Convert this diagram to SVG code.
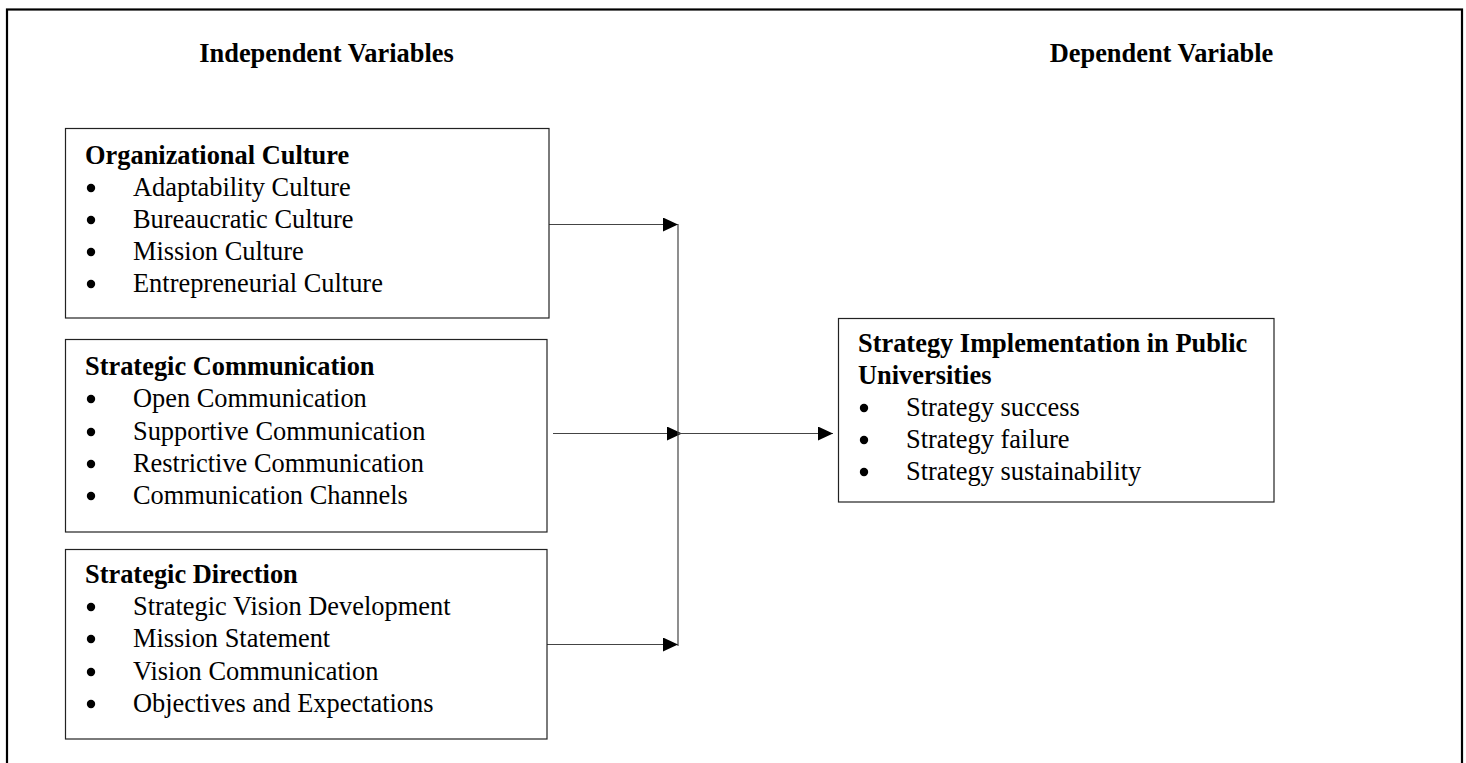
<svg xmlns="http://www.w3.org/2000/svg" width="1466" height="763" viewBox="0 0 1466 763">
<defs>
<style>
text{font-family:"Liberation Serif","Times New Roman",serif;font-size:26.4px;fill:#000}
.b{font-weight:bold}
.box{fill:#fff;stroke:#222;stroke-width:1.2}
.c{stroke:#444;stroke-width:1.2;fill:none}
.dot{fill:#000}
</style>
<marker id="ah" markerWidth="15" markerHeight="14" refX="15" refY="7" orient="auto" markerUnits="userSpaceOnUse">
<path d="M0,0 L15,7 L0,14 Z" fill="#000"/>
</marker>
</defs>
<rect x="0" y="0" width="1466" height="763" fill="#fff"/>
<rect id="frame" x="7" y="9.5" width="1455" height="800" fill="none" stroke="#000" stroke-width="2.2"/>
<text id="title-iv" class="b" x="326.5" y="62" text-anchor="middle">Independent Variables</text>
<text id="title-dv" class="b" x="1161.5" y="62" text-anchor="middle">Dependent Variable</text>

<g id="connectors">
<line class="c" x1="549" y1="224.5" x2="678" y2="224.5" marker-end="url(#ah)"/>
<line class="c" x1="553" y1="433.5" x2="682" y2="433.5" marker-end="url(#ah)"/>
<line class="c" x1="545" y1="644.5" x2="678" y2="644.5" marker-end="url(#ah)"/>
<line class="c" x1="678" y1="224" x2="678" y2="646"/>
<line class="c" x1="678" y1="433.5" x2="833" y2="433.5" marker-end="url(#ah)"/>
</g>

<g id="node-org-culture">
<rect class="box" x="65.5" y="128.5" width="483.5" height="189.5"/>
<text class="b" x="85" y="164">Organizational Culture</text>
<circle class="dot" cx="91" cy="188" r="4.2"/><text x="133" y="196">Adaptability Culture</text>
<circle class="dot" cx="91" cy="220" r="4.2"/><text x="133" y="228">Bureaucratic Culture</text>
<circle class="dot" cx="91" cy="252" r="4.2"/><text x="133" y="260">Mission Culture</text>
<circle class="dot" cx="91" cy="284" r="4.2"/><text x="133" y="292">Entrepreneurial Culture</text>
</g>

<g id="node-strat-comm">
<rect class="box" x="65.5" y="339.5" width="481.5" height="192.5"/>
<text class="b" x="85" y="375">Strategic Communication</text>
<circle class="dot" cx="91" cy="399" r="4.2"/><text x="133" y="407">Open Communication</text>
<circle class="dot" cx="91" cy="432" r="4.2"/><text x="133" y="440">Supportive Communication</text>
<circle class="dot" cx="91" cy="464" r="4.2"/><text x="133" y="472">Restrictive Communication</text>
<circle class="dot" cx="91" cy="496" r="4.2"/><text x="133" y="504">Communication Channels</text>
</g>

<g id="node-strat-dir">
<rect class="box" x="65.5" y="549.5" width="481.5" height="189.5"/>
<text class="b" x="85" y="583">Strategic Direction</text>
<circle class="dot" cx="91" cy="607" r="4.2"/><text x="133" y="615">Strategic Vision Development</text>
<circle class="dot" cx="91" cy="639" r="4.2"/><text x="133" y="647">Mission Statement</text>
<circle class="dot" cx="91" cy="672" r="4.2"/><text x="133" y="680">Vision Communication</text>
<circle class="dot" cx="91" cy="704" r="4.2"/><text x="133" y="712">Objectives and Expectations</text>
</g>

<g id="node-strategy-impl">
<rect class="box" x="838.5" y="318.5" width="435.5" height="183.5"/>
<text class="b" x="858" y="352">Strategy Implementation in Public</text>
<text class="b" x="858" y="384">Universities</text>
<circle class="dot" cx="864" cy="408" r="4.2"/><text x="906" y="416">Strategy success</text>
<circle class="dot" cx="864" cy="440" r="4.2"/><text x="906" y="448">Strategy failure</text>
<circle class="dot" cx="864" cy="472" r="4.2"/><text x="906" y="480">Strategy sustainability</text>
</g>
</svg>
